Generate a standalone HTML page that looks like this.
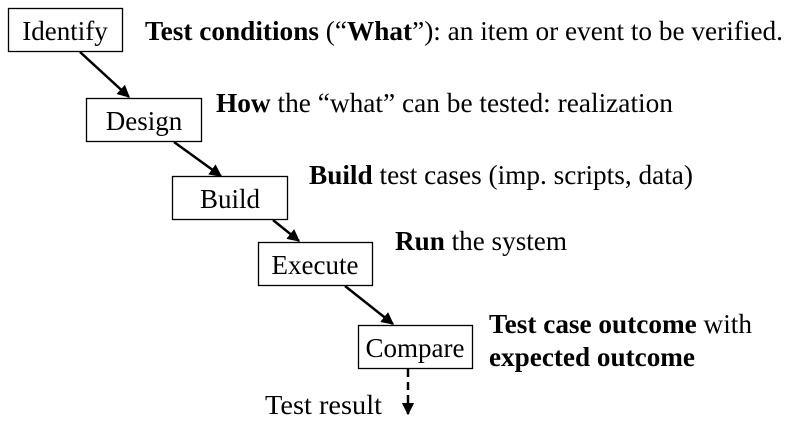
<!DOCTYPE html>
<html><head><meta charset="utf-8"><style>
html,body{margin:0;padding:0;background:#fff;}
svg{display:block;}
text{font-family:"Liberation Serif",serif;font-size:27px;fill:#000;}
.b{font-weight:bold;}
</style></head><body>
<svg width="789" height="424" viewBox="0 0 789 424" xmlns="http://www.w3.org/2000/svg">
<defs>
<marker id="a" viewBox="0 0 10 10" refX="9" refY="5" markerWidth="5" markerHeight="5" orient="auto">
<path d="M0,0 L10,5 L0,10 z" fill="#000"/>
</marker>
</defs>
<g fill="#fff" stroke="#000" stroke-width="1.3">
<rect x="8.5" y="8.5" width="114" height="43"/>
<rect x="86.5" y="98.5" width="115" height="43"/>
<rect x="172.5" y="176.5" width="115" height="43"/>
<rect x="258.5" y="242.5" width="114" height="43"/>
<rect x="358.5" y="325.5" width="114" height="43"/>
</g>
<g stroke="#000" stroke-width="2.5" marker-end="url(#a)">
<line x1="80" y1="52" x2="129" y2="97"/>
<line x1="174" y1="142" x2="221" y2="176"/>
<line x1="273" y1="220" x2="299" y2="241"/>
<line x1="345" y1="286" x2="393" y2="324"/>
<line x1="408" y1="369" x2="408" y2="414" stroke-dasharray="8,5"/>
</g>
<g text-anchor="middle">
<text x="65" y="40">Identify</text>
<text x="144" y="130">Design</text>
<text x="230" y="208">Build</text>
<text x="315" y="274">Execute</text>
<text x="415" y="357">Compare</text>
</g>
<text x="145" y="40" textLength="638" lengthAdjust="spacingAndGlyphs"><tspan class="b">Test conditions</tspan> (“<tspan class="b">What</tspan>”): an item or event to be verified.</text>
<text x="216" y="112" textLength="457" lengthAdjust="spacingAndGlyphs"><tspan class="b">How</tspan> the “what” can be tested: realization</text>
<text x="309" y="184" textLength="384" lengthAdjust="spacingAndGlyphs"><tspan class="b">Build</tspan> test cases (imp. scripts, data)</text>
<text x="395" y="250" textLength="172" lengthAdjust="spacingAndGlyphs"><tspan class="b">Run</tspan> the system</text>
<text x="489" y="333" textLength="263" lengthAdjust="spacingAndGlyphs"><tspan class="b">Test case outcome</tspan> with</text>
<text x="489" y="366" class="b" textLength="206" lengthAdjust="spacingAndGlyphs">expected outcome</text>
<text x="265" y="414" textLength="117" lengthAdjust="spacingAndGlyphs">Test result</text>
</svg>
</body></html>
